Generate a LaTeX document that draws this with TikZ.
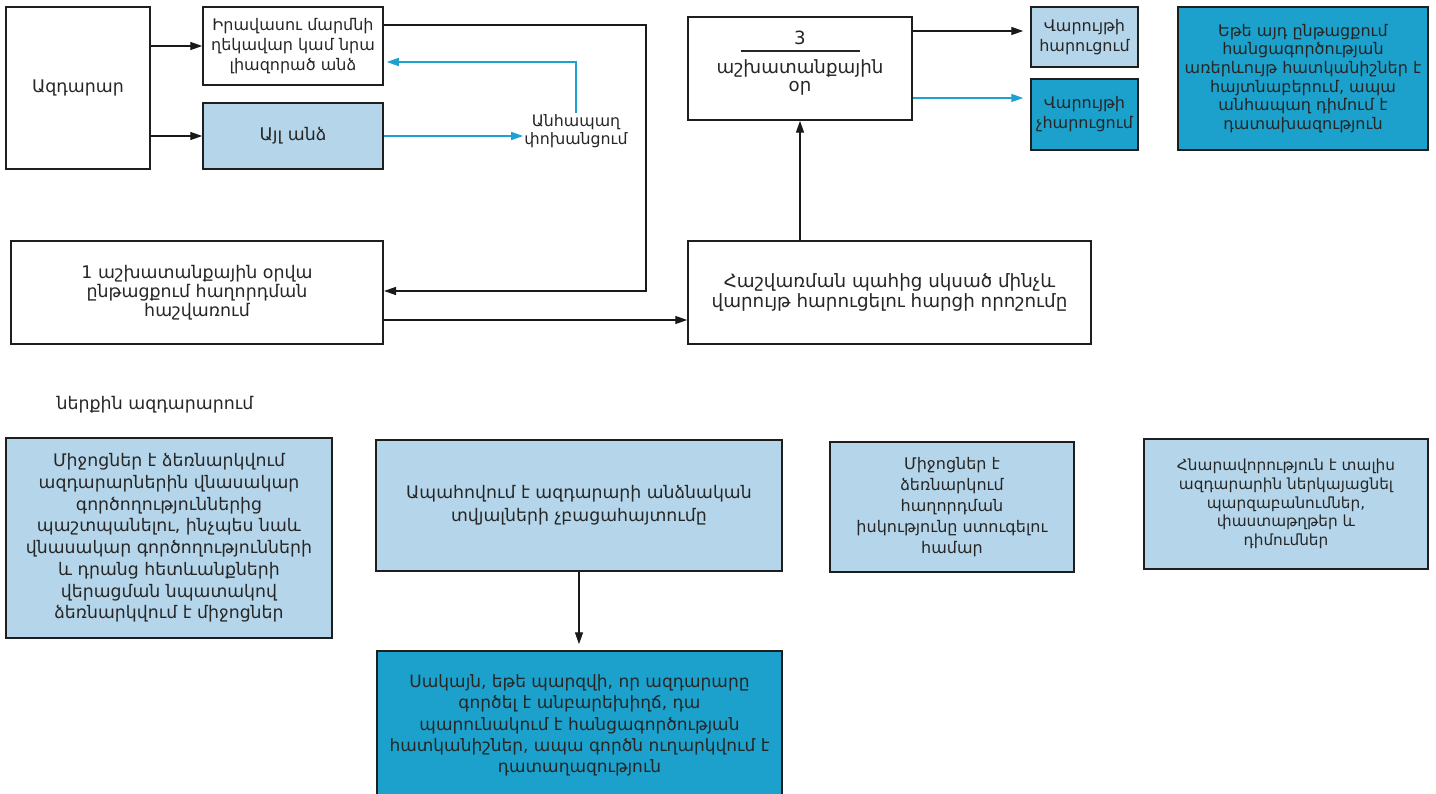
\documentclass[tikz,border=0pt]{standalone}
\usepackage{fontspec}
\setmainfont{DejaVu Sans}
\usetikzlibrary{arrows.meta}
\definecolor{lb}{RGB}{181,214,234}
\definecolor{db}{RGB}{27,161,203}
\definecolor{ab}{RGB}{29,161,208}
\definecolor{bd}{RGB}{30,30,30}
\newcommand{\fs}[2]{\fontsize{#1}{#2}\selectfont}
\tikzset{
 box/.style={draw=bd, line width=1.5pt, align=center, inner sep=2pt, text=black!85, font=\fs{17.4}{21}},
 wbox/.style={box, fill=white},
 lbox/.style={box, fill=lb},
 dbox/.style={box, fill=db},
 plain/.style={align=center, inner sep=1pt, text=black!85, font=\fs{17.4}{19}},
 arr/.style={line width=1.4pt, draw=black!90, -{Triangle[length=12pt,width=8pt]}},
 barr/.style={line width=1.4pt, draw=ab, -{Triangle[length=12pt,width=8pt]}},
}
\begin{document}
\begin{tikzpicture}[x=1pt,y=-1pt]
\useasboundingbox (0,0) rectangle (1436,794);
% top row
\node[wbox, minimum width=144pt, minimum height=162pt] (src) at (78,88) {Ազդարար};
\node[wbox, minimum width=180pt, minimum height=78pt, font=\fs{16}{20}] (head) at (293,46) {Իրավասու մարմնի\\ղեկավար կամ նրա\\լիազորած անձ};
\node[lbox, minimum width=180pt, minimum height=66pt] (other) at (293,136) {Այլ անձ};
\node[plain, font=\fs{15.8}{18}] (imm) at (576,131) {Անհապաղ\\փոխանցում};
\node[wbox, minimum width=224pt, minimum height=103pt, font=\fs{18.2}{18}] (three) at (800,68.5) {3\\[-11pt]\rule{119pt}{1.3pt}\\[4pt]աշխատանքային\\օր\\[-4pt]\mbox{}};
\node[lbox, minimum width=107pt, minimum height=60pt, font=\fs{16}{20}] (start) at (1084.5,37) {Վարույթի\\հարուցում};
\node[dbox, minimum width=107pt, minimum height=71pt, font=\fs{16}{20}] (nostart) at (1084.5,114.5) {Վարույթի\\չհարուցում};
\node[dbox, minimum width=250pt, minimum height=143pt, font=\fs{16}{18.7}] (ifbox) at (1303,78.5) {Եթե այդ ընթացքում\\հանցագործության\\առերևույթ հատկանիշներ է\\հայտնաբերում, ապա\\անհապաղ դիմում է\\դատախազություն};
% middle row
\node[wbox, line width=2pt, minimum width=372pt, minimum height=103pt, font=\fs{17.4}{19}] (reg) at (197,292.5) {1 աշխատանքային օրվա\\ընթացքում հաղորդման\\հաշվառում};
\node[wbox, minimum width=403pt, minimum height=103pt, font=\fs{18.3}{20}] (calc) at (889.5,292.5) {Հաշվառման պահից սկսած մինչև\\վարույթ հարուցելու հարցի որոշումը};
% bottom
\node[plain] (lbl) at (155,405) {ներքին ազդարարում};
\node[lbox, minimum width=326pt, minimum height=200pt, font=\fs{17.3}{21.7}] (m1) at (169,538) {Միջոցներ է ձեռնարկվում\\ազդարարներին վնասակար\\գործողություններից\\պաշտպանելու, ինչպես նաև\\վնասակար գործողությունների\\և դրանց հետևանքների\\վերացման նպատակով\\ձեռնարկվում է միջոցներ};
\node[lbox, minimum width=406pt, minimum height=131pt, font=\fs{17.3}{23}] (m2) at (579,505.5) {Ապահովում է ազդարարի անձնական\\տվյալների չբացահայտումը};
\node[lbox, minimum width=244pt, minimum height=130pt, font=\fs{16}{21}] (m3) at (952,507) {Միջոցներ է\\ձեռնարկում\\հաղորդման\\իսկությունը ստուգելու\\համար};
\node[lbox, minimum width=284pt, minimum height=130pt, font=\fs{15.3}{18.7}] (m4) at (1286,504) {Հնարավորություն է տալիս\\ազդարարին ներկայացնել\\պարզաբանումներ,\\փաստաթղթեր և\\դիմումներ};
\node[dbox, minimum width=405pt, minimum height=149pt, font=\fs{17}{21.3}] (m5) at (579.5,725.5) {Սակայն, եթե պարզվի, որ ազդարարը\\գործել է անբարեխիղճ, դա\\պարունակում է հանցագործության\\հատկանիշներ, ապա գործն ուղարկվում է\\դատաղազություն};
% connectors
\coordinate (c1) at (646,291);
\draw[arr] (src.east |- head.west) -- (head.west);
\draw[arr] (src.east |- other.west) -- (other.west);
\draw[barr] (other.east) -- (other.east -| imm.west);
\draw[barr] (imm.north) |- ([yshift=-16pt,xshift=3pt]head.east);
\draw[arr] ([yshift=21pt]head.east) -| (c1) -- (c1 -| reg.east);
\draw[arr] ([yshift=-27.5pt]reg.east) -- ([yshift=-27.5pt]calc.west);
\draw[arr] (calc.north -| three.south) -- (three.south);
\draw[arr, shorten >=7pt] ([yshift=37.5pt]three.east) -- ([yshift=37.5pt]three.east -| start.west);
\draw[barr, shorten >=7pt] ([yshift=-29.5pt]three.east) -- ([yshift=-29.5pt]three.east -| nostart.west);
\draw[arr, shorten >=6pt] (m2.south) -- (m2.south |- m5.north);
\end{tikzpicture}
\end{document}
